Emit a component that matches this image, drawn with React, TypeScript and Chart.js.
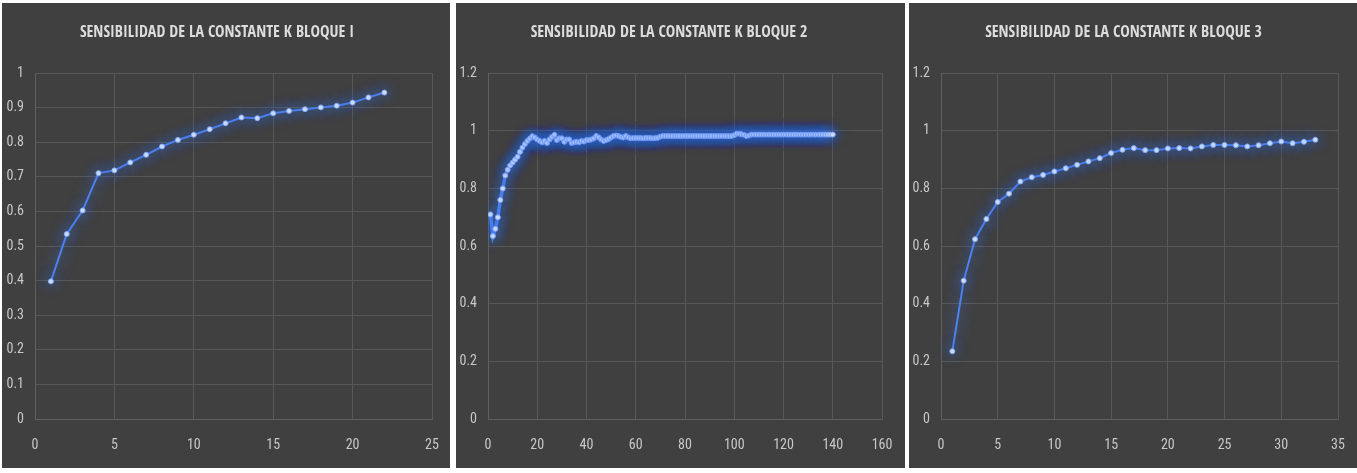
import React, { useEffect, useRef } from "react";
import { Chart, registerables } from "chart.js";

Chart.register(...registerables);

const title1 = "SENSIBILIDAD DE LA CONSTANTE K BLOQUE I";
const title2 = "SENSIBILIDAD DE LA CONSTANTE K BLOQUE 2";
const title3 = "SENSIBILIDAD DE LA CONSTANTE K BLOQUE 3";

const xs1 = [1, 2, 3, 4, 5, 6, 7, 8, 9, 10, 11, 12, 13, 14, 15, 16, 17, 18, 19, 20, 21, 22];
const ys1 = [0.398, 0.535, 0.603, 0.711, 0.719, 0.742, 0.764, 0.788, 0.807, 0.822, 0.838, 0.855, 0.872, 0.870, 0.884, 0.891, 0.896, 0.901, 0.906, 0.915, 0.930, 0.944];

const ys2 = [
  0.71, 0.635, 0.66, 0.70, 0.76, 0.80, 0.845, 0.865, 0.88, 0.89,
  0.90, 0.91, 0.927, 0.942, 0.954, 0.965, 0.973, 0.981, 0.977, 0.97,
  0.965, 0.96, 0.965, 0.958, 0.97, 0.979, 0.986, 0.968, 0.974, 0.974,
  0.962, 0.97, 0.97, 0.958, 0.96, 0.962, 0.96, 0.965, 0.963, 0.968,
  0.968, 0.97, 0.974, 0.982, 0.977, 0.97, 0.965, 0.968, 0.972, 0.977,
  0.982, 0.984, 0.982, 0.979, 0.977, 0.982, 0.977, 0.974, 0.975, 0.975,
  0.975, 0.975, 0.974, 0.975, 0.975, 0.975, 0.974, 0.975, 0.976, 0.98,
  0.982, 0.982, 0.982, 0.982, 0.982, 0.982, 0.982, 0.982, 0.982, 0.982,
  0.982, 0.982, 0.982, 0.982, 0.982, 0.982, 0.982, 0.982, 0.982, 0.982,
  0.982, 0.982, 0.982, 0.982, 0.982, 0.982, 0.982, 0.982, 0.982, 0.985,
  0.99, 0.99, 0.988, 0.986, 0.982, 0.984, 0.987, 0.987, 0.987, 0.987,
  0.987, 0.987, 0.987, 0.987, 0.987, 0.987, 0.987, 0.987, 0.987, 0.987,
  0.987, 0.987, 0.987, 0.987, 0.987, 0.987, 0.987, 0.987, 0.987, 0.987,
  0.987, 0.987, 0.987, 0.987, 0.987, 0.987, 0.987, 0.987, 0.987, 0.987,
];
const xs2 = ys2.map((_, i) => i + 1);

const xs3 = [1, 2, 3, 4, 5, 6, 7, 8, 9, 10, 11, 12, 13, 14, 15, 16, 17, 18, 19, 20, 21, 22, 23, 24, 25, 26, 27, 28, 29, 30, 31, 32, 33];
const ys3 = [0.235, 0.480, 0.624, 0.694, 0.753, 0.782, 0.824, 0.839, 0.847, 0.859, 0.870, 0.882, 0.894, 0.905, 0.923, 0.934, 0.940, 0.933, 0.933, 0.939, 0.940, 0.939, 0.946, 0.951, 0.951, 0.950, 0.946, 0.950, 0.957, 0.963, 0.957, 0.962, 0.969];

const TITLE_FONT = "'Open Sans Condensed', 'Roboto Condensed', 'Liberation Sans', sans-serif";
const TICK_FONT = "'Roboto Condensed', 'Open Sans Condensed', 'Liberation Sans', sans-serif";

const glow = {
  id: "glow",
  beforeDatasetDraw(chart: any) {
    const c = chart.ctx;
    c.save();
    c.shadowColor = "rgba(55,115,255,1)";
    c.shadowBlur = 14;
  },
  afterDatasetDraw(chart: any) {
    chart.ctx.restore();
  },
};

type PanelProps = {
  title: string;
  xs: number[];
  ys: number[];
  xMax: number;
  xStep: number;
  yMax: number;
  yStep: number;
  left: number;
  width: number;
  yWidth: number;
  rightPad: number;
  pointRadius: number;
  lineWidth: number;
};

function Panel(p: PanelProps) {
  const ref = useRef<HTMLCanvasElement | null>(null);
  const height = 465;
  useEffect(() => {
    if (!ref.current) return;
    const fmt = (v: any) => String(parseFloat(Number(v).toFixed(2)));
    const chart = new Chart(ref.current, {
      type: "line",
      data: {
        datasets: [
          {
            data: p.xs.map((x, i) => ({ x, y: p.ys[i] })),
            borderColor: "#4d82f0",
            borderWidth: p.lineWidth,
            pointRadius: p.pointRadius,
            pointBackgroundColor: "#d3e1ff",
            pointBorderColor: "#82a8f5",
            pointBorderWidth: 1,
            tension: 0,
          },
        ],
      },
      options: {
        responsive: false,
        animation: false,
        devicePixelRatio: 1,
        layout: { padding: { left: 0, right: p.rightPad, top: 0, bottom: 0 } },
        plugins: {
          legend: { display: false },
          tooltip: { enabled: false },
          title: {
            display: true,
            text: p.title,
            color: "#dcdcdc",
            font: { family: TITLE_FONT, size: 16, weight: "bold", lineHeight: 1.2 },
            padding: { top: 20, bottom: 31 },
          },
        },
        scales: {
          x: {
            type: "linear",
            min: 0,
            max: p.xMax,
            ticks: {
              stepSize: p.xStep,
              color: "#c8c8c8",
              font: { family: TICK_FONT, size: 14 },
              padding: 3,
              maxRotation: 0,
              callback: fmt,
            },
            grid: {
              color: "#585858",
              drawTicks: true,
              tickLength: 15,
              tickColor: "rgba(0,0,0,0)",
              lineWidth: 1,
            },
            border: { color: "#606060" },
            afterFit: (s: any) => {
              s.height = 49;
            },
          },
          y: {
            type: "linear",
            min: 0,
            max: p.yMax,
            ticks: {
              stepSize: p.yStep,
              color: "#c8c8c8",
              font: { family: TICK_FONT, size: 14 },
              padding: 11,
              callback: fmt,
            },
            grid: { color: "#585858", drawTicks: false, lineWidth: 1 },
            border: { color: "#606060" },
            afterFit: (s: any) => {
              s.width = p.yWidth;
            },
          },
        },
      },
      plugins: [glow],
    });
    return () => chart.destroy();
  }, []);
  return (
    <div
      style={{
        position: "absolute",
        left: p.left,
        top: 3,
        width: p.width,
        height,
        background: "#404040",
      }}
    >
      <canvas ref={ref} width={p.width} height={height} style={{ display: "block" }} />
    </div>
  );
}

export default function App() {
  return (
    <div
      style={{
        position: "absolute",
        left: 0,
        top: 0,
        width: 1357,
        height: 473,
        background: "#ffffff",
        overflow: "hidden",
      }}
    >
      <Panel title={title1} xs={xs1} ys={ys1} xMax={25} xStep={5} yMax={1} yStep={0.1}
        left={2} width={448} yWidth={33} rightPad={18} pointRadius={2.5} lineWidth={2} />
      <Panel title={title2} xs={xs2} ys={ys2} xMax={160} xStep={20} yMax={1.2} yStep={0.2}
        left={456} width={449} yWidth={32} rightPad={23} pointRadius={2.5} lineWidth={3.5} />
      <Panel title={title3} xs={xs3} ys={ys3} xMax={35} xStep={5} yMax={1.2} yStep={0.2}
        left={909} width={448} yWidth={32} rightPad={19} pointRadius={2.5} lineWidth={2} />
    </div>
  );
}
